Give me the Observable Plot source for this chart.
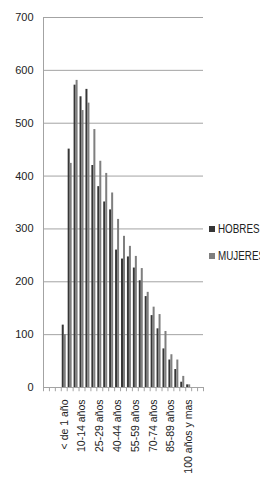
<!DOCTYPE html>
<html>
<head>
<meta charset="utf-8">
<script src="https://cdn.jsdelivr.net/npm/d3@7"></script>
<script src="https://cdn.jsdelivr.net/npm/@observablehq/plot@0.6"></script>
<style>
  html, body { margin: 0; padding: 0; background: #fff; overflow: hidden; }
  #wrap { position: relative; width: 260px; height: 485px; overflow: hidden; }
  .legend { position: absolute; left: 209px; top: 0; font-family: "Liberation Sans", Arial, sans-serif; font-size: 12px; color: #222; white-space: nowrap; }
  .legend .row { position: absolute; left: 0; display: flex; align-items: center; height: 14px; }
  .legend .sw { width: 6px; height: 6px; margin-right: 3px; flex: none; }
  .legend .tx { display: inline-block; transform: scaleX(0.82); transform-origin: 0 50%; }
</style>
</head>
<body>
<div id="wrap"></div>
<script>
// ---- data ----
const categories = ["< de 1 año","1-4 años","5-9 años","10-14 años","15-19 años","20-24 años","25-29 años","30-34 años","35-39 años","40-44 años","45-49 años","50-54 años","55-59 años","60-64 años","65-69 años","70-74 años","75-79 años","80-84 años","85-89 años","90-94 años","95-99 años","100 años y mas"];
const hombres = [118,451,572,550,564,420,380,351,336,260,243,247,226,202,172,136,111,73,52,34,10,5];
const mujeres = [100,424,581,524,538,488,428,405,368,318,286,267,248,225,180,152,138,106,62,52,21,5];
const emptyBefore = ["·1","·2","·3"];
const emptyAfter = ["·4","·5"];
const xTickLabels = ["< de 1 año","10-14 años","25-29 años","40-44 años","55-59 años","70-74 años","85-89 años","100 años y mas"];
const yTicks = [0,100,200,300,400,500,600,700];
const series = ["HOBRES","MUJERES"];
const colors = ["#363636","#7f7f7f"];

// ---- build ----
const xDomain = [...emptyBefore, ...categories, ...emptyAfter];
const dataH = categories.map((c, i) => ({cat: c, sexo: series[0], value: hombres[i]}));
const dataM = categories.map((c, i) => ({cat: c, sexo: series[1], value: mujeres[i]}));

const W = 260, H = 485, mL = 43, mR = 57, mT = 17, mB = 98;
const bw = (W - mL - mR) / xDomain.length;
const barW = 2.0;
const outer = (bw - 2 * barW) / 2;
const font = '"Liberation Sans", Arial, sans-serif';
const gridColor = "#a3a3a3";

const chart = Plot.plot({
  width: W, height: H,
  marginLeft: mL, marginRight: mR, marginTop: mT, marginBottom: mB,
  style: {fontFamily: font, fontSize: "11px", color: "#222", background: "#fff"},
  x: {type: "band", domain: xDomain, padding: 0, round: false, axis: null},
  y: {domain: [0, 700], axis: null},
  marks: [
    Plot.ruleY(yTicks, {stroke: gridColor, strokeWidth: 1}),
    Plot.ruleX([xDomain[0]], {y1: 0, y2: 700, dx: -bw / 2, stroke: gridColor}),
    Plot.barY(dataH, {x: "cat", y: "value", fill: colors[0], insetLeft: outer, insetRight: outer + barW}),
    Plot.barY(dataM, {x: "cat", y: "value", fill: colors[1], insetLeft: outer + barW, insetRight: outer}),
    Plot.ruleX(xDomain, {y1: 0, y2: -8, dx: -bw / 2, stroke: gridColor}),
    Plot.ruleX([xDomain[xDomain.length - 1]], {y1: 0, y2: -8, dx: bw / 2, stroke: gridColor}),
    Plot.axisY({ticks: yTicks, tickSize: 0, tickPadding: 10, label: null, fontSize: 11}),
    Plot.axisX({ticks: xTickLabels, tickSize: 0, tickPadding: 12, tickRotate: -90, label: null, fontSize: 10.5})
  ]
});

const wrap = document.getElementById("wrap");
wrap.appendChild(chart);

// legend (HTML, to the right of the plot)
const legend = document.createElement("div");
legend.className = "legend";
const legendTops = [222, 249];
series.forEach((s, i) => {
  const row = document.createElement("div");
  row.className = "row";
  row.style.top = legendTops[i] + "px";
  const sw = document.createElement("span");
  sw.className = "sw";
  sw.style.background = colors[i];
  const tx = document.createElement("span");
  tx.className = "tx";
  tx.textContent = s;
  row.appendChild(sw);
  row.appendChild(tx);
  legend.appendChild(row);
});
wrap.appendChild(legend);
</script>
</body>
</html>
